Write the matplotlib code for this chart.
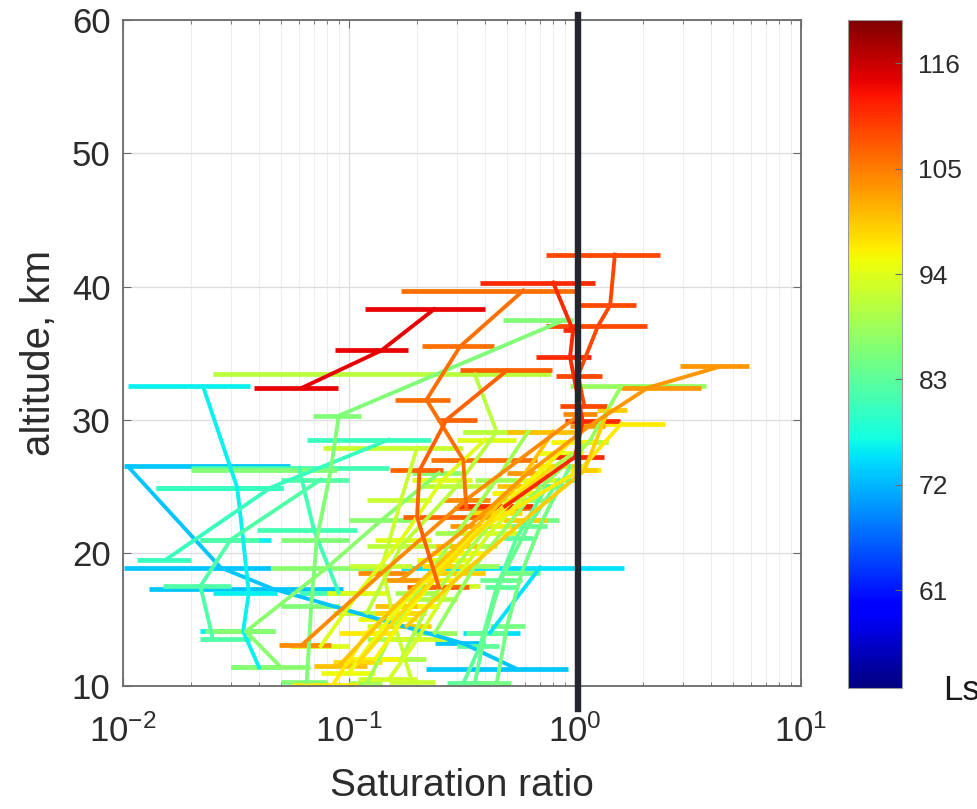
import numpy as np
import matplotlib.pyplot as plt
from matplotlib import colors
from matplotlib.ticker import LogLocator, NullFormatter, FixedLocator

plt.rcParams['font.family'] = ['Liberation Sans', 'DejaVu Sans']
plt.rcParams['mathtext.fontset'] = 'custom'
plt.rcParams['mathtext.rm'] = 'Liberation Sans'

# Ls of each profile
profile_ls = [114, 109, 111, 106, 107, 103, 104, 100, 97, 95,
              96, 93, 94, 91, 98, 92, 99, 86, 88, 84,
              85, 83, 76, 73, 75, 81, 80, 82, 87, 89, 90]

# altitude (km) of the points of each profile
profile_alt = [
    [32.4, 35.2, 38.3],
    [42.4, 38.6, 37.0, 33.3, 31.0],
    [40.3, 36.7, 34.7, 29.9, 27.2, 23.5],
    [39.7, 35.5, 31.5, 27.0, 23.4],
    [33.7, 30.0, 26.2, 22.7, 17.4],
    [34.0, 32.4, 29.5, 26.0, 22.0, 18.0],
    [13.1, 18.5, 24.0, 30.4],
    [11.5, 16.0, 20.5, 25.0, 29.1],
    [10.1, 14.0, 18.0, 22.0, 26.2, 29.7],
    [11.0, 15.0, 19.5, 23.5, 27.5],
    [12.0, 16.0, 20.0, 24.5, 28.3],
    [10.5, 13.5, 17.5, 21.5, 25.5],
    [13.0, 17.0, 21.0, 25.5, 28.5],
    [33.4, 29.1, 25.0, 20.5, 15.5],
    [11.8, 15.5, 19.0, 23.0, 26.5],
    [10.3, 14.5, 19.0, 24.0, 27.9],
    [14.5, 18.5, 22.5, 26.2, 30.7],
    [37.5, 30.3, 26.2, 21.0, 16.0, 10.3],
    [32.5, 28.3, 24.0, 19.0, 14.0],
    [25.5, 22.0, 18.0, 14.0, 10.2],
    [26.5, 22.5, 18.5, 14.5, 10.2],
    [25.0, 21.1, 17.4, 13.0, 10.2],
    [32.5, 24.9, 21.0, 17.0, 14.1, 11.4],
    [26.5, 18.9, 17.3, 13.2, 11.3],
    [18.9, 14.0],
    [26.4, 21.7, 17.0],
    [19.5, 24.9, 28.5],
    [13.5, 17.5, 21.0, 25.5],
    [11.4, 14.1, 18.9, 22.5, 26.0],
    [10.2, 13.5, 17.0, 21.5, 25.5, 29.1],
    [12.0, 16.5, 20.5, 24.5, 28.3],
]

# saturation ratio at each point
profile_sat = [
    [0.062, 0.139, 0.238],
    [1.50, 1.43, 1.26, 1.03, 1.10],
    [0.80, 0.98, 0.95, 1.08, 1.00, 0.49],
    [0.59, 0.31, 0.22, 0.32, 0.33],
    [0.50, 0.27, 0.205, 0.20, 0.25],
    [4.4, 2.1, 1.15, 0.62, 0.34, 0.17],
    [0.062, 0.14, 0.33, 1.05],
    [0.09, 0.16, 0.30, 0.55, 0.80],
    [0.085, 0.12, 0.22, 0.40, 1.05, 1.6],
    [0.10, 0.15, 0.26, 0.50, 0.85],
    [0.13, 0.19, 0.30, 0.55, 0.95],
    [0.15, 0.20, 0.28, 0.42, 0.70],
    [0.075, 0.11, 0.17, 0.26, 0.40],
    [0.36, 0.45, 0.30, 0.17, 0.12],
    [0.11, 0.17, 0.27, 0.45, 0.80],
    [0.19, 0.16, 0.14, 0.17, 0.20],
    [0.18, 0.32, 0.60, 1.10, 1.40],
    [0.90, 0.090, 0.083, 0.072, 0.068, 0.065],
    [1.6, 1.15, 0.62, 0.36, 0.24],
    [0.85, 0.62, 0.47, 0.40, 0.36],
    [0.95, 0.72, 0.58, 0.50, 0.45],
    [0.75, 0.55, 0.45, 0.38, 0.32],
    [0.0226, 0.032, 0.034, 0.036, 0.034, 0.040],
    [0.0105, 0.027, 0.046, 0.32, 0.55],
    [0.70, 0.42],
    [0.06, 0.07, 0.09],
    [0.0155, 0.045, 0.15],
    [0.025, 0.022, 0.030, 0.075],
    [0.05, 0.035, 0.08, 0.14, 0.25],
    [0.12, 0.15, 0.20, 0.30, 0.45, 0.62],
    [0.17, 0.23, 0.35, 0.55, 1.15],
]

# left end of error bar
profile_lo = [
    [0.038, 0.087, 0.118],
    [0.74, 1.01, 0.74, 0.82, 0.86],
    [0.38, 0.88, 0.67, 0.90, 0.78, 0.30],
    [0.17, 0.21, 0.16, 0.23, 0.29],
    [0.31, 0.245, 0.152, 0.173, 0.18],
    [2.9, 1.6, 0.95, 0.50, 0.28, 0.14],
    [0.049, 0.11, 0.26, 0.88],
    [0.07, 0.13, 0.24, 0.45, 0.50],
    [0.056, 0.09, 0.17, 0.31, 0.95, 1.1],
    [0.075, 0.11, 0.20, 0.38, 0.68],
    [0.10, 0.145, 0.23, 0.43, 0.78],
    [0.11, 0.15, 0.21, 0.32, 0.55],
    [0.055, 0.08, 0.13, 0.19, 0.30],
    [0.025, 0.32, 0.20, 0.12, 0.085],
    [0.085, 0.13, 0.21, 0.35, 0.65],
    [0.15, 0.12, 0.10, 0.12, 0.077],
    [0.14, 0.25, 0.48, 1.02, 1.25],
    [0.48, 0.069, 0.020, 0.05, 0.05, 0.05],
    [0.95, 1.05, 0.48, 0.28, 0.19],
    [0.70, 0.50, 0.38, 0.33, 0.30],
    [0.80, 0.60, 0.48, 0.42, 0.38],
    [0.62, 0.48, 0.40, 0.30, 0.27],
    [0.0105, 0.014, 0.022, 0.025, 0.022, 0.030],
    [0.0101, 0.0101, 0.013, 0.24, 0.22],
    [0.17, 0.32],
    [0.02, 0.039, 0.06],
    [0.0115, 0.014, 0.065],
    [0.022, 0.015, 0.022, 0.05],
    [0.030, 0.023, 0.045, 0.10, 0.19],
    [0.10, 0.12, 0.16, 0.24, 0.36, 0.32],
    [0.13, 0.18, 0.28, 0.44, 1.03],
]

# right end of error bar
profile_hi = [
    [0.089, 0.182, 0.40],
    [2.38, 1.86, 2.09, 1.31, 1.39],
    [1.23, 1.05, 1.18, 1.58, 1.34, 0.65],
    [1.05, 0.44, 0.28, 0.68, 0.65],
    [0.79, 0.37, 0.26, 0.44, 0.34],
    [5.9, 3.6, 1.35, 0.75, 0.42, 0.21],
    [0.083, 0.18, 0.42, 1.25],
    [0.12, 0.20, 0.37, 0.68, 1.0],
    [0.11, 0.16, 0.29, 0.52, 1.3, 2.5],
    [0.13, 0.20, 0.34, 0.64, 1.08],
    [0.17, 0.25, 0.39, 0.70, 1.2],
    [0.20, 0.27, 0.38, 0.56, 0.90],
    [0.10, 0.15, 0.23, 0.35, 0.55],
    [0.78, 0.67, 0.42, 0.24, 0.16],
    [0.14, 0.22, 0.35, 0.58, 1.0],
    [0.24, 0.21, 0.19, 0.23, 0.32],
    [0.23, 0.40, 0.75, 1.25, 1.7],
    [0.98, 0.113, 0.088, 0.10, 0.09, 0.08],
    [3.8, 1.4, 0.78, 0.46, 0.30],
    [1.0, 0.75, 0.58, 0.50, 0.42],
    [1.1, 0.85, 0.70, 0.60, 0.52],
    [0.90, 0.65, 0.55, 0.46, 0.38],
    [0.0365, 0.051, 0.045, 0.048, 0.047, 0.050],
    [0.055, 0.045, 0.094, 0.40, 0.93],
    [1.65, 0.57],
    [0.15, 0.108, 0.12],
    [0.02, 0.051, 0.23],
    [0.037, 0.030, 0.040, 0.10],
    [0.067, 0.047, 0.15, 0.19, 0.32],
    [0.14, 0.19, 0.25, 0.37, 0.56, 0.70],
    [0.22, 0.30, 0.45, 0.70, 1.4],
]

cbar_ticks = [61, 72, 83, 94, 105, 116]

fig = plt.figure(figsize=(9.78, 8.09), dpi=100)
ax = fig.add_axes([0.1258, 0.152, 0.6933, 0.823])
cax = fig.add_axes([0.867, 0.1496, 0.055, 0.8254])

cmap = plt.get_cmap('jet')
norm = colors.Normalize(vmin=50.8, vmax=120.5)

# lower Ls first so the red profiles sit on top
for i in np.argsort(profile_ls, kind='stable'):
    c = cmap(norm(profile_ls[i]))
    s = np.array(profile_sat[i])
    lo = np.array(profile_lo[i])
    hi = np.array(profile_hi[i])
    ax.errorbar(s, profile_alt[i], xerr=[s - lo, hi - s], color=c,
                lw=2.8, elinewidth=3.4, capsize=0)

# saturation = 1 marker
ax.plot([1.03, 1.03], [8.3, 60.4], color='#25252d', lw=4.6,
        clip_on=False, zorder=10)

ax.set_xscale('log')
ax.set_xlim(0.01, 10)
ax.set_ylim(10, 60)
ax.set_yticks([10, 20, 30, 40, 50, 60])
ax.xaxis.set_major_locator(FixedLocator([0.01, 0.1, 1, 10]))
ax.xaxis.set_minor_locator(LogLocator(base=10, subs=np.arange(2, 10)))
ax.xaxis.set_minor_formatter(NullFormatter())

ax.grid(True, which='major', color='#dcdcdc', lw=0.9)
ax.grid(True, which='minor', axis='x', color='#eeeeee', lw=0.8)
ax.set_axisbelow(True)

for sp in ax.spines.values():
    sp.set_color('#6a6a6a')
    sp.set_linewidth(1.3)
ax.tick_params(which='both', direction='in', top=True, right=True,
               colors='#6a6a6a', labelcolor='#2b2b2b')
ax.tick_params(which='major', length=6, labelsize=25)
ax.tick_params(axis='y', which='major', pad=9)
ax.tick_params(axis='x', which='major', pad=20)
ax.tick_params(which='minor', length=3)

ax.set_xlabel('Saturation ratio', fontsize=28, color='#2b2b2b', labelpad=14)
ax.set_ylabel('altitude, km', fontsize=29, color='#2b2b2b', labelpad=10)

sm = plt.cm.ScalarMappable(norm=norm, cmap=cmap)
cb = fig.colorbar(sm, cax=cax)
cb.set_ticks(cbar_ticks)
cb.outline.set_edgecolor('#9a9a9a')
cb.ax.tick_params(direction='in', length=5, labelsize=19,
                  colors='#6a6a6a', labelcolor='#2b2b2b', pad=12)

fig.text(0.964, 0.147, 'Ls', fontsize=25, color='#1a1a1a',
         ha='left', va='center')

fig.savefig('out.png', dpi=100)
